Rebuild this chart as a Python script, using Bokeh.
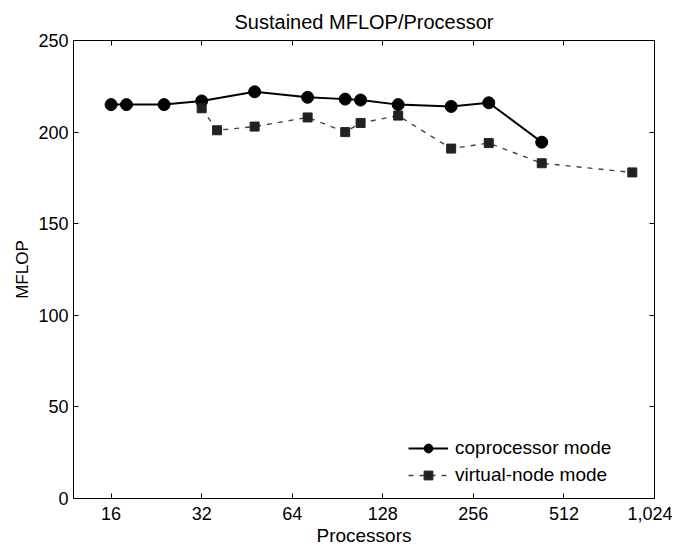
from bokeh.plotting import figure
from bokeh.models import LogAxis, LinearAxis, FixedTicker, NumeralTickFormatter, Range1d, Legend
from bokeh.embed import file_html
from bokeh.resources import INLINE

# Data
cop_procs = [16, 18, 24, 32, 48, 72, 96, 108, 144, 216, 288, 432]
cop_mflop = [215, 215, 215, 217, 222, 219, 218, 217.5, 215, 214, 216, 194.5]
vn_procs = [32, 36, 48, 72, 96, 108, 144, 216, 288, 432, 864]
vn_mflop = [213, 201, 203, 208, 200, 205, 209, 191, 194, 183, 178]
x_ticks = [16, 32, 64, 128, 256, 512, 1024]
y_ticks = [0, 50, 100, 150, 200, 250]

FONT = "Liberation Sans"

p = figure(
    x_axis_type="log",
    x_range=Range1d(12, 1024),
    y_range=Range1d(0, 250),
    frame_width=581,
    frame_height=458,
    min_border_left=73,
    min_border_right=18,
    min_border_top=10,
    min_border_bottom=10,
    output_backend="svg",
    toolbar_location=None,
    title="Sustained MFLOP/Processor",
)

p.title.align = "center"
p.title.text_font = FONT
p.title.text_font_size = "20px"
p.title.text_font_style = "normal"
p.title.text_color = "black"
p.title.standoff = 16

p.xgrid.visible = False
p.ygrid.visible = False
p.outline_line_color = "black"
p.outline_line_width = 1

def style_axis(ax, ticks, labels=True):
    ax.axis_line_color = "black"
    ax.axis_line_width = 1
    ax.major_tick_line_color = "black"
    ax.major_tick_in = 5
    ax.major_tick_out = 0
    ax.minor_tick_line_color = None
    ax.major_label_text_font = FONT
    ax.major_label_text_color = "black"
    ax.major_label_text_font_size = "18px"
    if not labels:
        ax.major_label_overrides = {t: "" for t in ticks}
        ax.major_label_standoff = 0

xa = p.xaxis[0]
xa.ticker = FixedTicker(ticks=x_ticks)
xa.formatter = NumeralTickFormatter(format="0,0")
style_axis(xa, x_ticks)
xa.major_label_standoff = 8
xa.axis_label = "Processors"
xa.axis_label_text_font = FONT
xa.axis_label_text_font_size = "19px"
xa.axis_label_text_font_style = "normal"
xa.axis_label_text_color = "black"
xa.axis_label_standoff = 2

ya = p.yaxis[0]
ya.ticker = FixedTicker(ticks=y_ticks)
style_axis(ya, y_ticks)
ya.major_label_standoff = 5
ya.axis_label = "MFLOP"
ya.axis_label_text_font = FONT
ya.axis_label_text_font_size = "17px"
ya.axis_label_text_font_style = "normal"
ya.axis_label_text_color = "black"
ya.axis_label_standoff = 3

top = LogAxis(ticker=FixedTicker(ticks=x_ticks))
style_axis(top, x_ticks, labels=False)
p.add_layout(top, "above")
right = LinearAxis(ticker=FixedTicker(ticks=y_ticks))
style_axis(right, y_ticks, labels=False)
p.add_layout(right, "right")

# Coprocessor mode
l1 = p.line(cop_procs, cop_mflop, line_color="black", line_width=2)
s1 = p.scatter(cop_procs, cop_mflop, marker="circle", size=12,
               fill_color="black", line_color="black")

# Virtual-node mode
l2 = p.line(vn_procs, vn_mflop, line_color="#444444", line_width=1.4, line_dash="5 6")
s2 = p.scatter(vn_procs, vn_mflop, marker="square", size=9,
               fill_color="#222222", line_color="#222222")

legend = Legend(
    items=[("coprocessor mode", [l1, s1]), ("virtual-node mode", [l2, s2])],
    location=(335, 12),
    glyph_width=40,
    glyph_height=22,
    label_height=22,
    label_standoff=7,
    spacing=5,
    padding=5,
    margin=0,
    border_line_color=None,
    background_fill_alpha=0,
    label_text_font=FONT,
    label_text_font_size="19px",
    label_text_color="black",
)
p.add_layout(legend, "center")

open("out.html", "w").write(file_html(p, INLINE))
